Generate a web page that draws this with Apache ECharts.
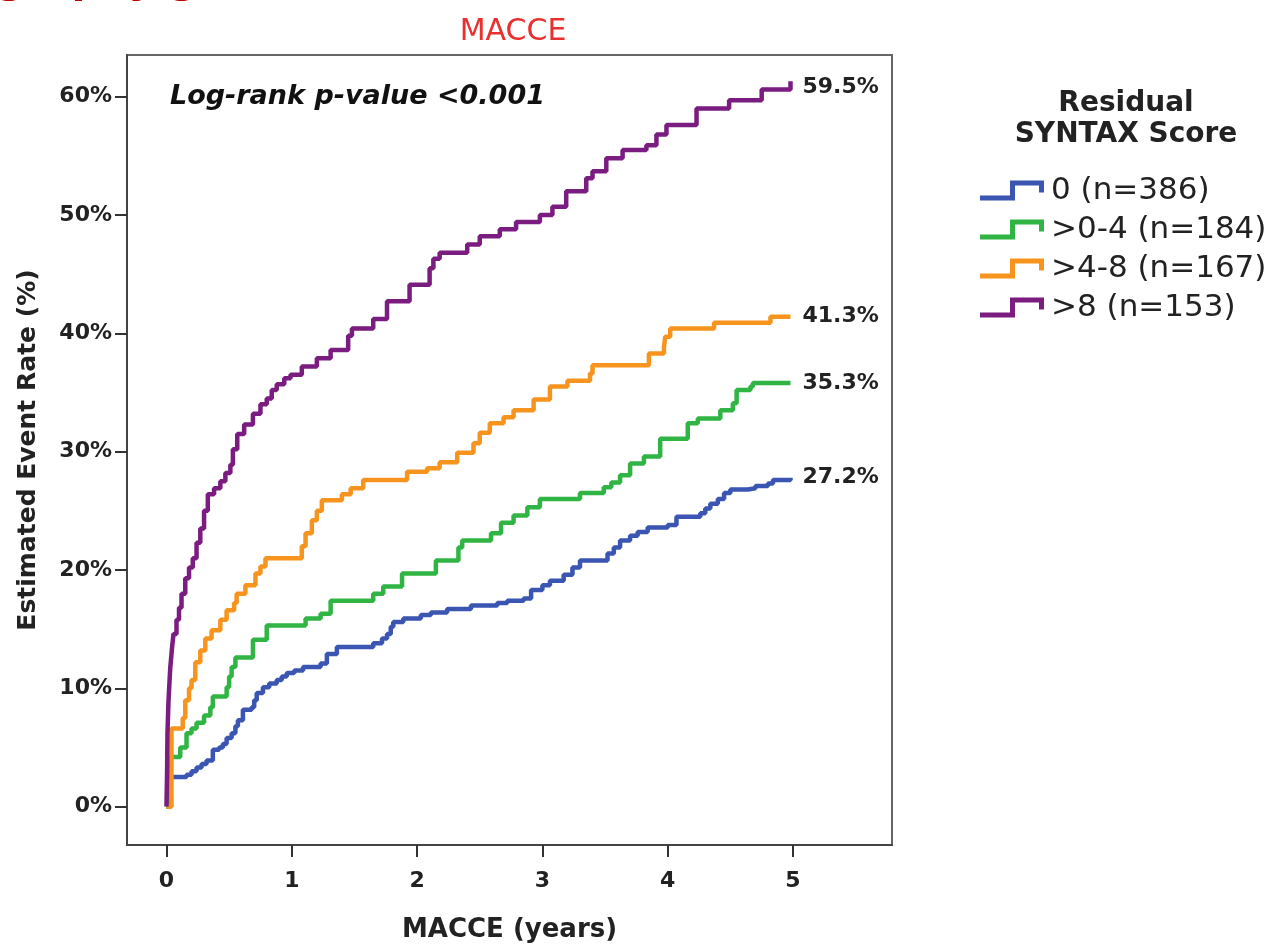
<!DOCTYPE html>
<html><head><meta charset="utf-8">
<script src="https://cdn.jsdelivr.net/npm/echarts@6/dist/echarts.min.js"></script>
<style>html,body{margin:0;padding:0;background:#fff}#c{width:1278px;height:944px}</style>
</head><body><div id="c"></div>
<script>
// ---- data ----
const seriesNames = ['0 (n=386)', '>0-4 (n=184)', '>4-8 (n=167)', '>8 (n=153)'];
const endLabels = ['27.2%', '35.3%', '41.3%', '59.5%'];
const xTicks = [0, 1, 2, 3, 4, 5];
const yTicks = [0, 10, 20, 30, 40, 50, 60];

// [years, cumulative event rate %] at each step (value after the jump)
const blueSteps = [[0,0],[0.02,2.5],[0.16,2.7],[0.2,3.0],[0.24,3.3],[0.28,3.6],[0.32,3.9],[0.37,4.8],[0.42,5.0],[0.45,5.3],[0.48,5.8],[0.52,6.2],[0.55,6.8],[0.57,7.3],[0.61,8.2],[0.68,8.4],[0.70,9.0],[0.72,9.6],[0.77,10.1],[0.82,10.4],[0.88,10.7],[0.92,11.0],[0.96,11.3],[1.02,11.5],[1.09,11.8],[1.23,12.1],[1.28,12.9],[1.36,13.5],[1.65,13.8],[1.72,14.2],[1.76,14.6],[1.79,15.2],[1.81,15.6],[1.89,15.9],[2.03,16.2],[2.11,16.4],[2.24,16.7],[2.43,17.0],[2.64,17.2],[2.72,17.4],[2.85,17.6],[2.91,18.3],[3.0,18.7],[3.06,19.1],[3.17,19.6],[3.24,20.2],[3.30,20.8],[3.52,21.4],[3.57,21.9],[3.62,22.5],[3.70,22.9],[3.76,23.2],[3.84,23.6],[4.00,23.8],[4.07,24.5],[4.26,24.8],[4.30,25.2],[4.34,25.6],[4.40,26.0],[4.45,26.5],[4.50,26.8],[4.64,26.9],[4.70,27.1],[4.80,27.3],[4.84,27.6],[4.98,27.8]];
const greenSteps = [[0,0],[0.03,4.2],[0.11,5.0],[0.16,6.2],[0.20,6.6],[0.24,7.1],[0.30,7.7],[0.35,8.4],[0.37,9.3],[0.48,10.1],[0.50,11.0],[0.52,11.8],[0.55,12.6],[0.69,14.1],[0.80,15.3],[1.11,15.9],[1.23,16.3],[1.31,17.4],[1.65,18.0],[1.73,18.6],[1.88,19.7],[2.15,20.8],[2.33,21.9],[2.36,22.5],[2.59,23.1],[2.67,24.0],[2.77,24.6],[2.88,25.3],[2.98,26.0],[3.30,26.5],[3.49,27.0],[3.55,27.4],[3.62,28.0],[3.70,29.0],[3.81,29.6],[3.94,31.1],[4.16,32.4],[4.24,32.8],[4.42,33.5],[4.52,34.1],[4.55,35.2],[4.66,35.5],[4.68,35.8],[4.98,35.8]];
const orangeSteps = [[0,0],[0.04,6.6],[0.13,7.5],[0.15,9.0],[0.18,10.0],[0.20,10.7],[0.23,12.2],[0.27,13.2],[0.31,14.2],[0.36,14.9],[0.43,15.8],[0.48,16.6],[0.54,17.2],[0.56,18.0],[0.63,18.7],[0.71,19.7],[0.75,20.3],[0.79,21.0],[1.08,22.0],[1.11,23.1],[1.16,24.2],[1.20,25.0],[1.24,25.9],[1.40,26.4],[1.47,26.9],[1.57,27.6],[1.92,28.3],[2.08,28.6],[2.18,29.1],[2.32,29.9],[2.45,30.7],[2.50,31.6],[2.58,32.4],[2.69,32.9],[2.77,33.5],[2.93,34.4],[3.06,35.5],[3.20,36.0],[3.38,36.6],[3.40,37.3],[3.85,38.3],[3.97,38.8],[3.98,39.7],[4.02,40.4],[4.37,40.9],[4.82,41.4],[4.98,41.4]];
const purpleSteps = [[0,0],[0.005,3.0],[0.008,6.2],[0.016,8.9],[0.03,11.7],[0.045,13.5],[0.056,14.6],[0.08,15.8],[0.10,16.8],[0.12,18.0],[0.15,19.3],[0.18,20.2],[0.21,21.0],[0.24,22.3],[0.27,23.5],[0.30,25.0],[0.33,26.4],[0.38,26.9],[0.43,27.5],[0.47,28.2],[0.51,28.9],[0.53,30.2],[0.565,31.5],[0.62,32.3],[0.69,33.2],[0.75,34.0],[0.80,34.5],[0.84,35.2],[0.88,35.7],[0.94,36.2],[0.99,36.5],[1.08,37.2],[1.20,37.9],[1.31,38.6],[1.45,39.8],[1.48,40.4],[1.65,41.2],[1.76,42.7],[1.94,44.1],[2.10,45.5],[2.13,46.3],[2.18,46.8],[2.40,47.5],[2.50,48.2],[2.66,48.8],[2.79,49.4],[2.98,50.0],[3.08,50.7],[3.19,52.0],[3.35,53.1],[3.40,53.7],[3.51,54.8],[3.64,55.5],[3.83,55.9],[3.91,56.8],[3.99,57.6],[4.23,59.0],[4.49,59.7],[4.75,60.6],[4.98,61.3]];

// ---- presentation ----
const allSteps = [blueSteps, greenSteps, orangeSteps, purpleSteps];
const colors = ['#3a55b2', '#30b544', '#f7941d', '#7a1c80'];
const FONT = 'DejaVu Sans';
const stepIcon = 'path://M0,15L30,15L30,0L64,0L64,12L59,12L59,5L35,5L35,20L0,20Z';

const chart = echarts.init(document.getElementById('c'), null, {renderer: 'canvas'});
chart.setOption({
  animation: false,
  backgroundColor: '#ffffff',
  title: [
    {text: 'MACCE', left: 508, top: 12, textAlign: 'center',
     textStyle: {color: '#e8312f', fontSize: 30, fontWeight: 'normal', fontFamily: FONT}},
    {text: 'Residual\nSYNTAX Score', left: 1121, top: 83, textAlign: 'center',
     textStyle: {color: '#222', fontSize: 28, fontWeight: 'bold', fontFamily: FONT, lineHeight: 31}}
  ],
  graphic: [
    {type: 'text', left: 0, top: -38, silent: true,
     style: {text: 'graphy g', font: 'italic bold 40px "DejaVu Sans"', fill: '#c00000'}},
    {type: 'text', left: 170, top: 83, silent: true,
     style: {text: 'Log-rank p-value <0.001', font: 'italic bold 27px "DejaVu Sans"', fill: '#111'}}
  ],
  legend: {
    orient: 'vertical', left: 975, top: 170, itemWidth: 64, itemHeight: 20, itemGap: 8,
    selectedMode: false, symbolKeepAspect: false,
    itemStyle: {borderWidth: 0},
    data: seriesNames.map(n => ({name: n, icon: stepIcon})),
    textStyle: {fontFamily: FONT, fontSize: 31, color: '#222', padding: [0, 0, 0, 2]}
  },
  grid: {left: 127, right: 386, top: 55, bottom: 99, outerBoundsMode: 'none', containLabel: false,
    show: true, borderColor: '#666', borderWidth: 2, backgroundColor: '#fff'},
  xAxis: {
    type: 'value', min: -0.315, max: 5.79,
    name: 'MACCE (years)', nameLocation: 'middle', nameGap: 72,
    nameTextStyle: {fontFamily: FONT, fontWeight: 'bold', fontSize: 26, color: '#222'},
    axisLine: {show: true, onZero: false, lineStyle: {color: '#444', width: 2}},
    axisTick: {show: true, length: 12, customValues: xTicks, lineStyle: {color: '#333', width: 2}},
    axisLabel: {customValues: xTicks, margin: 25, fontFamily: FONT, fontWeight: 'bold', fontSize: 22, color: '#222'},
    splitLine: {show: false}
  },
  yAxis: {
    type: 'value', min: -3.24, max: 63.52,
    name: 'Estimated Event Rate (%)', nameLocation: 'middle', nameGap: 86,
    nameTextStyle: {fontFamily: FONT, fontWeight: 'bold', fontSize: 25, color: '#222'},
    axisLine: {show: true, onZero: false, lineStyle: {color: '#444', width: 2}},
    axisTick: {show: true, length: 12, customValues: yTicks, lineStyle: {color: '#333', width: 2}},
    axisLabel: {customValues: yTicks, margin: 15, formatter: '{value}%', fontFamily: FONT, fontWeight: 'bold', fontSize: 22, color: '#222'},
    splitLine: {show: false}
  },
  series: allSteps.map((d, i) => ({
    name: seriesNames[i], type: 'line', step: 'end', data: d,
    showSymbol: false, color: colors[i],
    lineStyle: {color: colors[i], width: 4.5},
    itemStyle: {color: colors[i]},
    endLabel: {show: true, formatter: endLabels[i], distance: 12, offset: [0, i === 3 ? 6 : 0],
      color: '#222', fontFamily: FONT, fontWeight: 'bold', fontSize: 22}
  }))
});
</script></body></html>
